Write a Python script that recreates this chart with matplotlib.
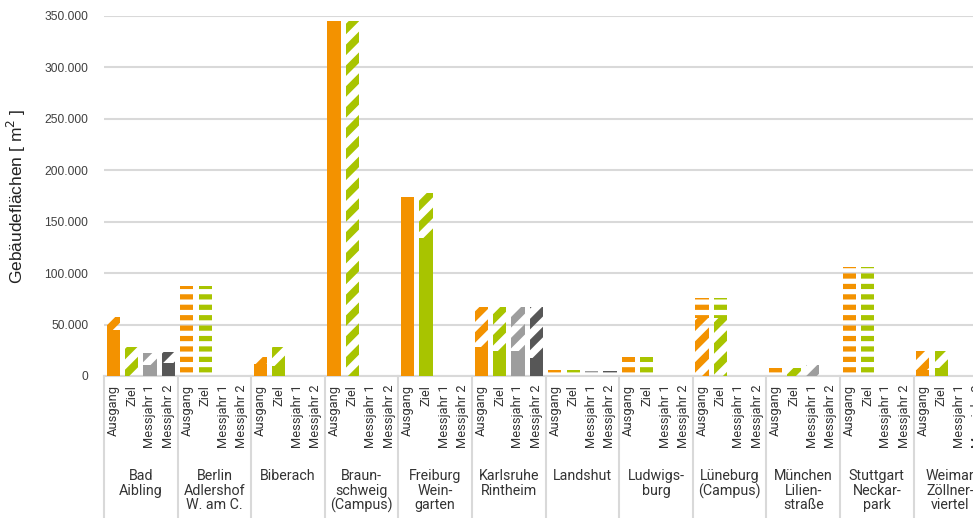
import numpy as np
import matplotlib.pyplot as plt
from matplotlib import transforms
from matplotlib.ticker import FuncFormatter

sites = ["Bad\nAibling", "Berlin\nAdlershof\nW. am C.", "Biberach",
         "Braun-\nschweig\n(Campus)", "Freiburg\nWein-\ngarten", "Karlsruhe\nRintheim",
         "Landshut", "Ludwigs-\nburg", "Lüneburg\n(Campus)", "München\nLilien-\nstraße",
         "Stuttgart\nNeckar-\npark", "Weimar\nZöllner-\nviertel"]
phases = ["Ausgang", "Ziel", "Messjahr 1", "Messjahr 2"]
colors = ["#f39200", "#a8c400", "#9d9d9d", "#575757"]

# each bar: solid part [0, solid], diagonal hatched part [solid, diag],
# horizontally hatched part [diag, horiz]  (m²)
solid_ausgang = [44700, 0, 11500, 345000, 173600, 27900, 0, 0, 0, 0, 0, 6000]
diag_ausgang = [57000, 0, 18500, 345000, 173600, 67400, 0, 0, 56400, 0, 0, 24000]
horiz_ausgang = [57000, 87500, 18500, 345000, 173600, 67400, 5500, 18500, 75500, 8000, 105700, 24000]

solid_ziel = [0, 0, 10000, 0, 134500, 24600, 0, 0, 0, 0, 0, 7500]
diag_ziel = [28500, 0, 28000, 345000, 178000, 67400, 0, 0, 56400, 7500, 0, 24000]
horiz_ziel = [28500, 87500, 28000, 345000, 178000, 67400, 5800, 18500, 75500, 7500, 105700, 24000]

solid_m1 = [10700, 0, 0, 0, 0, 24600, 0, 0, 0, 0, 0, 0]
diag_m1 = [22000, 0, 0, 0, 0, 67400, 0, 0, 0, 10500, 0, 0]
horiz_m1 = [22000, 0, 0, 0, 0, 67400, 5000, 0, 0, 10500, 0, 0]

solid_m2 = [12600, 0, 0, 0, 0, 17200, 0, 0, 0, 0, 0, 0]
diag_m2 = [23600, 0, 0, 0, 0, 67400, 0, 0, 0, 0, 0, 0]
horiz_m2 = [23600, 0, 0, 0, 0, 67400, 5200, 0, 0, 0, 0, 0]

solids = [solid_ausgang, solid_ziel, solid_m1, solid_m2]
diags = [diag_ausgang, diag_ziel, diag_m1, diag_m2]
horizs = [horiz_ausgang, horiz_ziel, horiz_m1, horiz_m2]

DPI = 125
fig = plt.figure(figsize=(973 / DPI, 518 / DPI), dpi=DPI)
# axes runs past the right edge, the last group is cut like in the original
AXW = 12 * 73.6
ax = fig.add_axes([104 / 973, 1 - 376 / 518, AXW / 973, 360 / 518])

n = len(sites)
grp = np.arange(n)
width = 0.177


def hatched(x, h, b, c, pattern, lw):
    with plt.rc_context({"hatch.linewidth": lw}):
        bars = ax.bar(x, h, width, bottom=b, facecolor="none", edgecolor=c,
                      linewidth=0, hatch=pattern, zorder=3)
    for p in bars:
        if hasattr(p, "set_hatch_linewidth"):
            p.set_hatch_linewidth(lw)


ticks, ticklabels = [], []
for j, ph in enumerate(phases):
    x = grp + 0.125 + 0.25 * j
    s = np.array(solids[j])
    d = np.array(diags[j])
    hz = np.array(horizs[j])
    ax.bar(x, s, width, color=colors[j], linewidth=0, zorder=3)
    hatched(x, d - s, s, colors[j], "//", 4.3)
    hatched(x, hz - d, d, colors[j], "--", 3.0)
    ticks += list(x)
    ticklabels += [ph] * n

ax.set_xlim(0, n)
ax.set_ylim(0, 350000)
ax.set_yticks(np.arange(0, 350001, 50000))
ax.yaxis.set_major_formatter(FuncFormatter(lambda v, p: f"{int(v):,}".replace(",", ".")))
ax.grid(axis="y", color="#d9d9d9", linewidth=1.2, zorder=0)
ax.set_axisbelow(True)
for sp in ["top", "right", "left"]:
    ax.spines[sp].set_visible(False)
ax.spines["bottom"].set_color("#d9d9d9")
ax.spines["bottom"].set_linewidth(1.2)

ax.set_xticks(ticks)
ax.set_xticklabels(ticklabels, rotation=90, fontsize=7.4, family="Roboto", color="#333333")
ax.tick_params(axis="x", length=0, pad=5)
ax.tick_params(axis="y", length=0, pad=9, labelsize=6.9, labelcolor="#404040")
for t in ax.get_yticklabels():
    t.set_family("Liberation Sans")

ax.set_ylabel("Gebäudeflächen [ m$^2$ ]", fontsize=10, family="Liberation Sans",
              color="#222222")
ax.yaxis.set_label_coords(-(104 - 28) / AXW, 0.5)

trans = transforms.blended_transform_factory(ax.transData, ax.transAxes)
for i in range(n + 1):
    ax.plot([i, i], [0, -0.45], transform=trans, color="#d9d9d9", linewidth=1.2,
            clip_on=False, zorder=1)
for i, name in enumerate(sites):
    ax.text(i + 0.5, -(469 - 376) / 360, name, transform=trans, ha="center", va="top",
            fontsize=8.2, family="Roboto", color="#333333", linespacing=1.05)

fig.savefig("out.png", dpi=DPI)
